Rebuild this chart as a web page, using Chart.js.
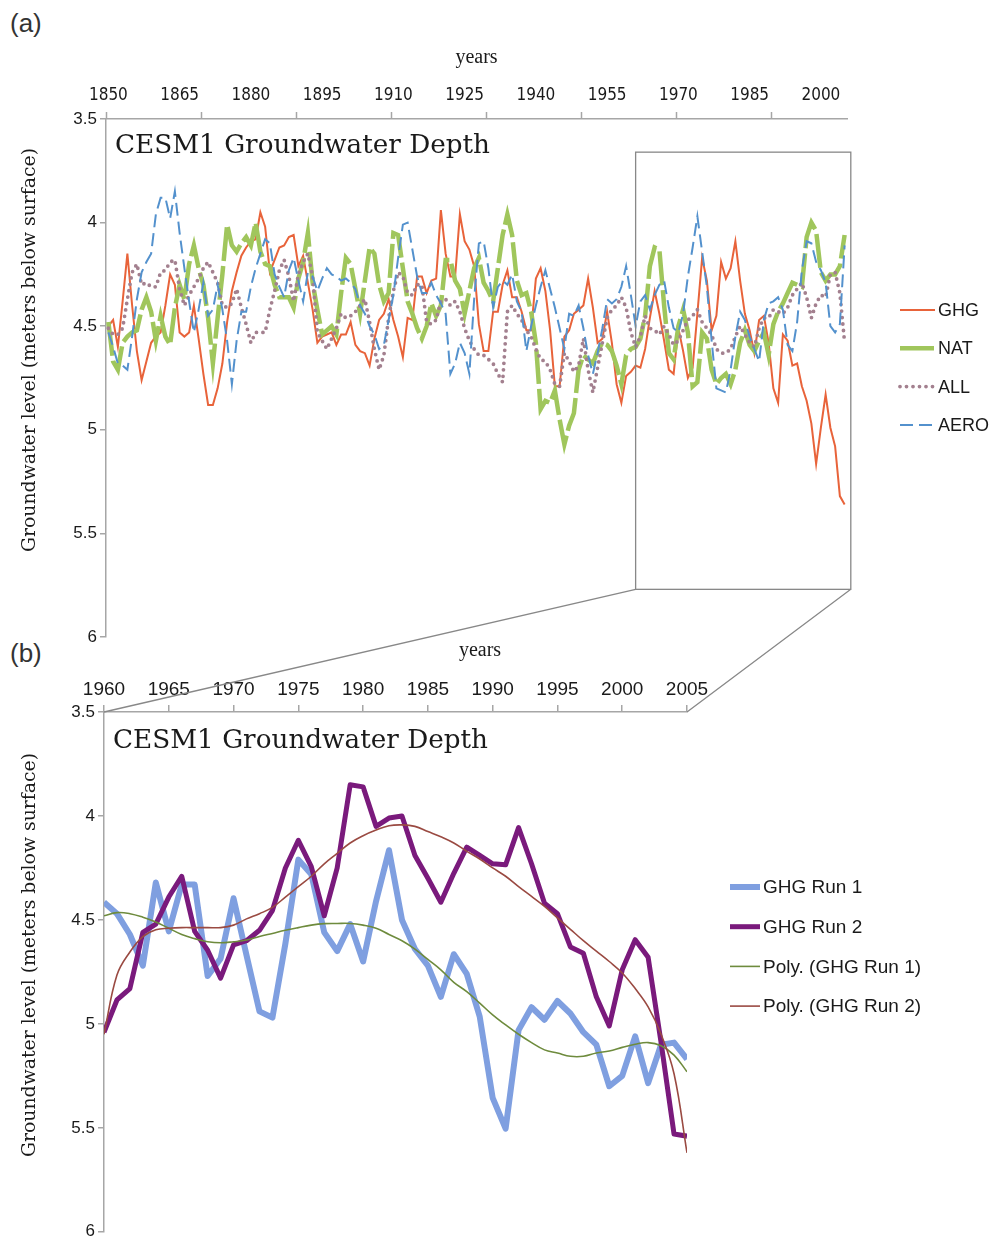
<!DOCTYPE html>
<html>
<head>
<meta charset="utf-8">
<script src="https://cdn.jsdelivr.net/npm/chart.js@4.4.1/dist/chart.umd.min.js"></script>
<style>
    html, body { margin: 0; padding: 0; background: #fff; }
    #page { position: relative; width: 992px; height: 1245px; overflow: hidden; }
    canvas { position: absolute; left: 0; }
    #chartA { top: 0; }
    #chartB { top: 640px; }
    #overlay { top: 0; pointer-events: none; }
    .tag { position: absolute; left: 10px; font: 26px "Liberation Sans", sans-serif; color: #333; }
</style>
</head>
<body>
<div id="page">
    <div class="tag" style="top:8px">(a)</div>
    <div class="tag" style="top:638px">(b)</div>
    <canvas id="chartA" width="992" height="652"></canvas>
    <canvas id="chartB" width="992" height="605"></canvas>
    <canvas id="overlay" width="992" height="1245"></canvas>
</div>
<script>
// ---- panel (a): 1850-2005 ----
const yearsA = Array.from({length: 156}, (_, i) => 1850 + i);
const labelYearsA = [1850, 1865, 1880, 1895, 1910, 1925, 1940, 1955, 1970, 1985, 2000];

const ghg = [
    4.50, 4.47, 4.60, 4.38, 4.15, 4.40, 4.62, 4.76, 4.67, 4.58,
    4.55, 4.53, 4.40, 4.25, 4.30, 4.53, 4.55, 4.53, 4.40, 4.56,
    4.73, 4.88, 4.88, 4.80, 4.68, 4.48, 4.33, 4.24, 4.16, 4.12,
    4.09, 4.08, 3.95, 4.02, 4.24, 4.18, 4.12, 4.11, 4.07, 4.06,
    4.21, 4.16, 4.29, 4.42, 4.58, 4.55, 4.54, 4.53, 4.59, 4.54,
    4.54, 4.48, 4.59, 4.62, 4.63, 4.69, 4.56, 4.47, 4.44, 4.37,
    4.47, 4.55, 4.65, 4.46, 4.47, 4.26, 4.26, 4.34, 4.28, 4.27,
    3.94, 4.15, 4.26, 4.26, 3.96, 4.09, 4.13, 4.21, 4.49, 4.62,
    4.62, 4.43, 4.43, 4.30, 4.23, 4.36, 4.36, 4.43, 4.52, 4.52,
    4.27, 4.22, 4.33, 4.52, 4.79, 4.79, 4.55, 4.52, 4.44, 4.42,
    4.40, 4.27, 4.41, 4.58, 4.56, 4.43, 4.58, 4.78, 4.87, 4.74,
    4.72, 4.69, 4.70, 4.61, 4.46, 4.33, 4.44, 4.57, 4.71, 4.73,
    4.51, 4.62, 4.75, 4.70, 4.44, 4.17, 4.28, 4.52, 4.45, 4.19,
    4.27, 4.22, 4.09, 4.28, 4.44, 4.52, 4.63, 4.47, 4.45, 4.58,
    4.80, 4.87, 4.54, 4.57, 4.69, 4.68, 4.79, 4.86, 4.97, 5.165,
    4.99, 4.83, 4.99, 5.08, 5.32, 5.36
];
const nat = [
    4.48, 4.67, 4.71, 4.58, 4.55, 4.53, 4.52, 4.42, 4.36, 4.43,
    4.57, 4.45, 4.55, 4.59, 4.41, 4.30, 4.37, 4.20, 4.11, 4.22,
    4.30, 4.46, 4.68, 4.46, 4.25, 4.01, 4.11, 4.14, 4.10, 4.07,
    4.11, 4.00, 4.14, 4.20, 4.21, 4.30, 4.36, 4.36, 4.36, 4.41,
    4.27, 4.19, 4.05, 4.29, 4.42, 4.54, 4.52, 4.50, 4.54, 4.34,
    4.17, 4.20, 4.32, 4.44, 4.28, 4.12, 4.15, 4.30, 4.38, 4.34,
    4.05, 4.06, 4.22, 4.38, 4.44, 4.51, 4.56, 4.50, 4.39, 4.45,
    4.40, 4.18, 4.18, 4.28, 4.32, 4.44, 4.33, 4.22, 4.17, 4.29,
    4.33, 4.38, 4.22, 4.06, 3.96, 4.06, 4.28, 4.35, 4.34, 4.43,
    4.58, 4.90, 4.86, 4.87, 4.81, 4.95, 5.07, 4.98, 4.92, 4.71,
    4.64, 4.66, 4.68, 4.62, 4.58, 4.59, 4.62, 4.69, 4.78, 4.64,
    4.61, 4.60, 4.56, 4.45, 4.21, 4.12, 4.13, 4.40, 4.63, 4.66,
    4.50, 4.42, 4.53, 4.79, 4.77, 4.53, 4.56, 4.71, 4.78, 4.75,
    4.73, 4.78, 4.71, 4.58, 4.52, 4.59, 4.62, 4.57, 4.53, 4.64,
    4.49, 4.43, 4.39, 4.34, 4.29, 4.30, 4.31, 4.07, 4.00, 4.04,
    4.24, 4.28, 4.25, 4.25, 4.21, 4.06
];
const all = [
    4.51, 4.54, 4.54, 4.51, 4.37, 4.24, 4.20, 4.30, 4.29, 4.31,
    4.31, 4.24, 4.23, 4.19, 4.18, 4.32, 4.40, 4.35, 4.31, 4.27,
    4.22, 4.19, 4.24, 4.29, 4.40, 4.41, 4.39, 4.32, 4.41, 4.49,
    4.58, 4.53, 4.53, 4.53, 4.42, 4.33, 4.23, 4.18, 4.26, 4.38,
    4.25, 4.19, 4.15, 4.26, 4.53, 4.57, 4.61, 4.56, 4.51, 4.44,
    4.46, 4.45, 4.43, 4.40, 4.37, 4.48, 4.61, 4.71, 4.64, 4.46,
    4.33, 4.24, 4.26, 4.34, 4.35, 4.30, 4.30, 4.48, 4.49, 4.47,
    4.38, 4.37, 4.40, 4.38, 4.43, 4.51, 4.57, 4.61, 4.64, 4.64,
    4.66, 4.68, 4.73, 4.77, 4.43, 4.40, 4.44, 4.47, 4.52, 4.55,
    4.61, 4.66, 4.67, 4.71, 4.78, 4.79, 4.63, 4.67, 4.72, 4.69,
    4.56, 4.71, 4.82, 4.70, 4.58, 4.46, 4.42, 4.40, 4.36, 4.41,
    4.53, 4.60, 4.55, 4.45, 4.51, 4.52, 4.54, 4.50, 4.54, 4.59,
    4.57, 4.52, 4.47, 4.45, 4.42, 4.48, 4.51, 4.54, 4.61, 4.63,
    4.63, 4.61, 4.55, 4.50, 4.54, 4.58, 4.60, 4.51, 4.46, 4.46,
    4.42, 4.43, 4.44, 4.41, 4.35, 4.32, 4.29, 4.36, 4.46, 4.39,
    4.35, 4.36, 4.25, 4.24, 4.34, 4.58
];
const aero = [
    4.53, 4.60, 4.68, 4.69, 4.71, 4.55, 4.37, 4.24, 4.19, 4.15,
    3.96, 3.88, 3.88, 3.98, 3.85, 4.05, 4.22, 4.38, 4.53, 4.42,
    4.29, 4.45, 4.42, 4.30, 4.42, 4.57, 4.78, 4.57, 4.43, 4.43,
    4.31, 4.22, 4.15, 4.08, 4.10, 4.25, 4.31, 4.36, 4.23, 4.17,
    4.28, 4.38, 4.24, 4.26, 4.33, 4.27, 4.22, 4.25, 4.26, 4.28,
    4.27, 4.29, 4.32, 4.40, 4.44, 4.50, 4.54, 4.61, 4.59, 4.47,
    4.35, 4.17, 4.01, 4.00, 4.13, 4.26, 4.34, 4.34, 4.29, 4.35,
    4.39, 4.44, 4.73, 4.68, 4.58, 4.63, 4.73, 4.37, 4.10, 4.09,
    4.22, 4.41, 4.31, 4.28, 4.30, 4.25, 4.38, 4.43, 4.62, 4.50,
    4.40, 4.31, 4.23, 4.32, 4.41, 4.51, 4.61, 4.44, 4.45, 4.40,
    4.51, 4.64, 4.73, 4.63, 4.51, 4.37, 4.39, 4.37, 4.31, 4.21,
    4.35, 4.50, 4.38, 4.35, 4.42, 4.35, 4.30, 4.28, 4.41, 4.51,
    4.53, 4.44, 4.26, 4.12, 3.97, 4.14, 4.31, 4.57, 4.80, 4.81,
    4.82, 4.71, 4.55, 4.43, 4.47, 4.55, 4.61, 4.67, 4.47, 4.39,
    4.38, 4.36, 4.42, 4.59, 4.62, 4.48, 4.23, 4.09, 4.10, 4.19,
    4.23, 4.29, 4.50, 4.53, 4.49, 4.11
];

// ---- panel (b): 1960-2005 ----
const yearsB = Array.from({length: 46}, (_, i) => 1960 + i);
const run1 = [
    4.415, 4.47, 4.57, 4.72, 4.32, 4.555, 4.33, 4.33, 4.77, 4.686,
    4.396, 4.67, 4.94, 4.97, 4.614, 4.21, 4.28, 4.56, 4.65, 4.52,
    4.70, 4.41, 4.165, 4.50, 4.64, 4.72, 4.87, 4.665, 4.76, 4.965,
    5.356, 5.504, 5.03, 4.92, 4.98, 4.89, 4.95, 5.04, 5.10, 5.30,
    5.25, 5.06, 5.285, 5.10, 5.09, 5.17
];
const run2 = [
    5.04, 4.885, 4.83, 4.56, 4.52, 4.39, 4.29, 4.555, 4.646, 4.78,
    4.62, 4.60, 4.55, 4.455, 4.25, 4.117, 4.244, 4.48, 4.25, 3.85,
    3.86, 4.05, 4.01, 4.00, 4.19, 4.30, 4.415, 4.276, 4.15, 4.19,
    4.23, 4.235, 4.056, 4.23, 4.42, 4.47, 4.63, 4.66, 4.87, 5.01,
    4.74, 4.595, 4.68, 5.09, 5.53, 5.54
];
const poly1 = [
    4.48, 4.465, 4.47, 4.487, 4.51, 4.54, 4.57, 4.59, 4.605, 4.61,
    4.605, 4.597, 4.58, 4.565, 4.55, 4.537, 4.525, 4.518, 4.517, 4.517,
    4.525, 4.54, 4.57, 4.60, 4.64, 4.69, 4.74, 4.80, 4.845, 4.90,
    4.957, 5.005, 5.05, 5.09, 5.125, 5.14, 5.156, 5.156, 5.14, 5.13,
    5.113, 5.098, 5.09, 5.105, 5.15, 5.23
];
const poly2 = [
    5.05, 4.765, 4.654, 4.58, 4.547, 4.54, 4.537, 4.537, 4.537, 4.537,
    4.525, 4.495, 4.47, 4.44, 4.39, 4.34, 4.29, 4.23, 4.18, 4.13,
    4.095, 4.068, 4.047, 4.043, 4.05, 4.075, 4.10, 4.13, 4.17, 4.207,
    4.25, 4.29, 4.34, 4.387, 4.435, 4.49, 4.545, 4.60, 4.65, 4.70,
    4.755, 4.83, 4.918, 5.05, 5.24, 5.62
];

const AXIS_GREY = '#A6A6A6';
const TEXT = '#1a1a1a';
const xy = (xs, ys) => xs.map((x, i) => ({x: x, y: ys[i]}));

function fitFont(ctx, text, family, target, base) {
    ctx.font = base + 'px ' + family;
    const w = ctx.measureText(text).width;
    const size = base * target / w;
    ctx.font = size.toFixed(2) + 'px ' + family;
}

// title inside the plot, rotated y title, zoom box, custom legend, odd tick marks
const panelDecor = {
    id: 'panelDecor',
    afterDraw(chart, args, o) {
        const {ctx, chartArea: a, scales} = chart;
        ctx.save();
        ctx.fillStyle = TEXT;
        ctx.textBaseline = 'middle';
        ctx.textAlign = 'left';
        fitFont(ctx, o.title, '"DejaVu Serif", serif', 375, 24);
        ctx.fillText(o.title, a.left + 9, a.top + o.titleDy);

        ctx.save();
        ctx.translate(o.yTitleX, o.yTitleY);
        ctx.rotate(-Math.PI / 2);
        ctx.textAlign = 'center';
        fitFont(ctx, o.yTitle, '"DejaVu Serif", serif', 404, 17);
        ctx.fillText(o.yTitle, 0, 0);
        ctx.restore();

        if (o.xTitle) {
            ctx.textAlign = 'center';
            ctx.font = '20px "Liberation Serif", serif';
            ctx.fillText(o.xTitle.text, o.xTitle.x, o.xTitle.y);
        }

        if (o.tickMarks) {
            ctx.strokeStyle = AXIS_GREY;
            ctx.lineWidth = 1.5;
            for (let v = o.tickMarks.start; v < scales.x.max; v += o.tickMarks.step) {
                const px = Math.round(scales.x.getPixelForValue(v)) + 0.5;
                ctx.beginPath();
                ctx.moveTo(px, a.top);
                ctx.lineTo(px, a.top - 7);
                ctx.stroke();
            }
        }

        if (o.box) {
            const x0 = scales.x.getPixelForValue(o.box.x0), x1 = scales.x.getPixelForValue(o.box.x1);
            const y0 = scales.y.getPixelForValue(o.box.y0), y1 = scales.y.getPixelForValue(o.box.y1);
            ctx.strokeStyle = '#888';
            ctx.lineWidth = 1.3;
            ctx.strokeRect(x0, y0, x1 - x0, y1 - y0);
        }

        const lg = o.legend;
        ctx.font = lg.fontSize + 'px "Liberation Sans", Arial, sans-serif';
        chart.data.datasets.forEach((ds, i) => {
            const y = a.top + lg.top + i * lg.gap;
            const x = a.right + lg.left;
            ctx.save();
            ctx.strokeStyle = ds.borderColor;
            ctx.lineWidth = ds.borderWidth;
            ctx.lineCap = ds.borderCapStyle || 'butt';
            ctx.setLineDash(ds.borderDash || []);
            ctx.beginPath();
            ctx.moveTo(x, y);
            ctx.lineTo(x + lg.len, y);
            ctx.stroke();
            ctx.restore();
            ctx.fillStyle = TEXT;
            ctx.textAlign = 'left';
            ctx.fillText(ds.label, x + lg.len + 3, y + 1);
        });
        ctx.restore();
    }
};

const yAxis = (width) => ({
    reverse: true, min: 3.5, max: 6,
    afterFit: s => { s.width = width; },
    ticks: { stepSize: 0.5, padding: 3, color: TEXT, font: {family: '"Liberation Sans", Arial', size: 17}, callback: v => String(v) },
    grid: { drawOnChartArea: false, drawTicks: true, tickLength: 6, color: AXIS_GREY, lineWidth: 1.5 },
    border: { color: AXIS_GREY, width: 1.5 }
});

const chartA = new Chart(document.getElementById('chartA'), {
    type: 'line',
    data: {
        datasets: [
            { label: 'GHG', data: xy(yearsA, ghg), borderColor: '#E8633A', borderWidth: 2, order: 3 },
            { label: 'NAT', data: xy(yearsA, nat), borderColor: '#A0C65C', borderWidth: 4.5, borderDash: [34, 5], order: 2 },
            { label: 'ALL', data: xy(yearsA, all), borderColor: '#A3808F', borderWidth: 3.8, borderDash: [0, 6.5], borderCapStyle: 'round', order: 1 },
            { label: 'AERO', data: xy(yearsA, aero), borderColor: '#5391CD', borderWidth: 2, borderDash: [13, 6], order: 0 }
        ]
    },
    options: {
        responsive: false,
        animation: false,
        layout: { padding: { left: 0, top: 0, right: 145, bottom: 15 } },
        elements: { point: { radius: 0 }, line: { tension: 0, fill: false } },
        plugins: {
            legend: { display: false },
            tooltip: { enabled: false },
            panelDecor: {
                title: 'CESM1 Groundwater Depth', titleDy: 27,
                yTitle: 'Groundwater level (meters below surface)', yTitleX: 30, yTitleY: 350,
                tickMarks: { start: 1849.5, step: 20 },
                box: { x0: 1961, x1: 2006.3, y0: 3.66, y1: 5.77 },
                legend: { left: 53, top: 191, gap: 38.3, len: 35, fontSize: 18 }
            }
        },
        scales: {
            x: {
                type: 'linear', position: 'top', min: 1849.5, max: 2005.5,
                afterBuildTicks: s => { s.ticks = labelYearsA.map(v => ({value: v})); },
                afterFit: s => { s.height = 119; },
                ticks: { padding: 13, maxRotation: 0, autoSkip: false, color: TEXT,
                         font: {family: '"DejaVu Sans Condensed", "Liberation Sans Narrow", "Liberation Sans", Arial', size: 17}, callback: v => String(v) },
                grid: { drawOnChartArea: false, drawTicks: false },
                border: { color: AXIS_GREY, width: 1.5 },
                title: { display: true, text: 'years', color: TEXT, font: {family: '"Liberation Serif", serif', size: 20}, padding: { top: 46, bottom: 0 } }
            },
            y: yAxis(106)
        }
    },
    plugins: [panelDecor]
});

const chartB = new Chart(document.getElementById('chartB'), {
    type: 'line',
    data: {
        datasets: [
            { label: 'GHG Run 1', data: xy(yearsB, run1), borderColor: '#7F9FE0', borderWidth: 6, borderJoinStyle: 'round', order: 3 },
            { label: 'GHG Run 2', data: xy(yearsB, run2), borderColor: '#7A1A7C', borderWidth: 5, borderJoinStyle: 'round', order: 2 },
            { label: 'Poly. (GHG Run 1)', data: xy(yearsB, poly1), borderColor: '#6E8B3D', borderWidth: 1.6, tension: 0.4, order: 1 },
            { label: 'Poly. (GHG Run 2)', data: xy(yearsB, poly2), borderColor: '#9A4A42', borderWidth: 1.6, tension: 0.4, order: 0 }
        ]
    },
    options: {
        responsive: false,
        animation: false,
        layout: { padding: { left: 0, top: 0, right: 305, bottom: 8 } },
        elements: { point: { radius: 0 }, line: { tension: 0, fill: false } },
        plugins: {
            legend: { display: false },
            tooltip: { enabled: false },
            panelDecor: {
                title: 'CESM1 Groundwater Depth', titleDy: 29,
                yTitle: 'Groundwater level (meters below surface)', yTitleX: 30, yTitleY: 315,
                xTitle: { text: 'years', x: 480, y: 11 },
                legend: { left: 43, top: 175, gap: 39.7, len: 30, fontSize: 19 }
            }
        },
        scales: {
            x: {
                type: 'linear', position: 'top', min: 1960, max: 2005,
                afterFit: s => { s.height = 72; },
                ticks: { stepSize: 5, padding: 4, maxRotation: 0, autoSkip: false, color: TEXT,
                         font: {family: '"Liberation Sans", Arial', size: 19}, callback: v => String(v) },
                grid: { drawOnChartArea: false, drawTicks: true, tickLength: 7, color: AXIS_GREY, lineWidth: 1.5 },
                border: { color: AXIS_GREY, width: 1.5 }
            },
            y: yAxis(104)
        }
    },
    plugins: [panelDecor]
});

// connector lines from the zoom box in (a) to the axis of (b)
function drawConnectors() {
    const ov = document.getElementById('overlay').getContext('2d');
    const box = chartA.options.plugins.panelDecor.box;
    const offB = 640;
    const bx0 = chartA.scales.x.getPixelForValue(box.x0);
    const bx1 = chartA.scales.x.getPixelForValue(box.x1);
    const by1 = chartA.scales.y.getPixelForValue(box.y1);
    const b = chartB.chartArea;
    ov.strokeStyle = '#888';
    ov.lineWidth = 1.3;
    ov.beginPath();
    ov.moveTo(bx0, by1); ov.lineTo(b.left, b.top + offB);
    ov.moveTo(bx1, by1); ov.lineTo(b.right, b.top + offB);
    ov.stroke();
}
drawConnectors();
</script>
</body>
</html>
